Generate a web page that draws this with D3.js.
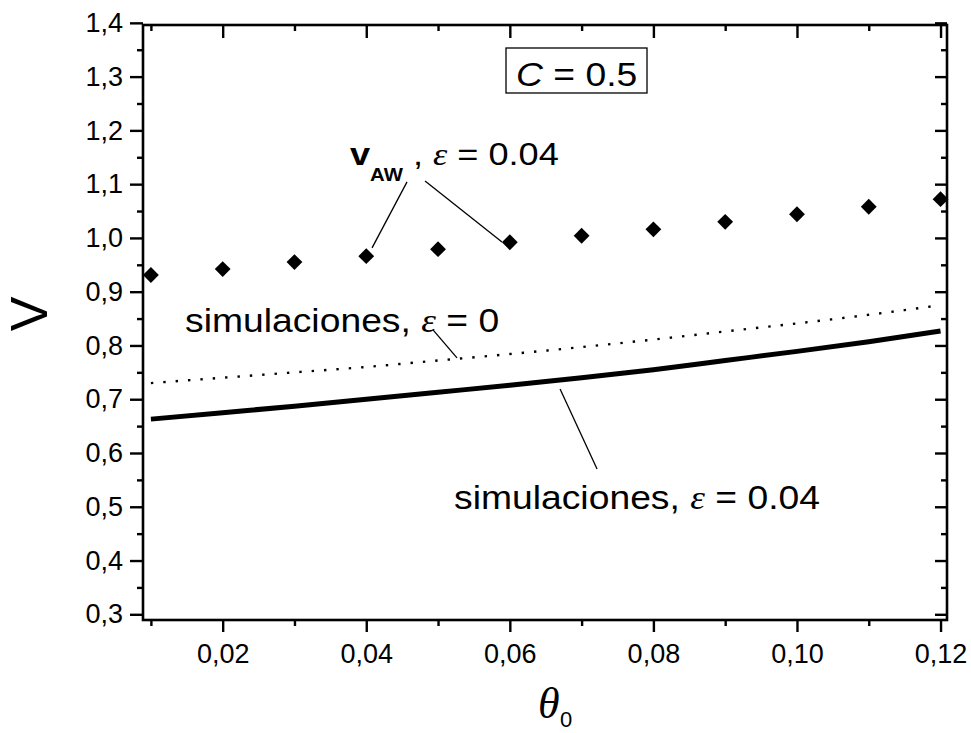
<!DOCTYPE html>
<html>
<head>
<meta charset="utf-8">
<script src="https://cdn.jsdelivr.net/npm/d3@7"></script>
<style>
  html, body { margin: 0; padding: 0; background: #fff; }
  svg { display: block; }
  text { font-family: "Liberation Sans", Arial, sans-serif; fill: #000; }
</style>
</head>
<body>
<svg id="chart" width="971" height="733"></svg>
<script>
// ---- data ----
const theta = [0.01, 0.02, 0.03, 0.04, 0.05, 0.06, 0.07, 0.08, 0.09, 0.10, 0.11, 0.12];
const vAW   = [0.931, 0.942, 0.955, 0.966, 0.979, 0.992, 1.004, 1.016, 1.030, 1.044, 1.058, 1.072];
const simEps0   = [0.730, 0.740, 0.750, 0.760, 0.772, 0.784, 0.797, 0.811, 0.826, 0.841, 0.857, 0.875];
const simEps004 = [0.663, 0.675, 0.687, 0.700, 0.713, 0.726, 0.740, 0.755, 0.772, 0.789, 0.807, 0.827];
const xTicks = [0.02, 0.04, 0.06, 0.08, 0.10, 0.12];
const xMinor = [0.01, 0.03, 0.05, 0.07, 0.09, 0.11];
const yTicks = [0.3, 0.4, 0.5, 0.6, 0.7, 0.8, 0.9, 1.0, 1.1, 1.2, 1.3, 1.4];
const yMinor = [0.35, 0.45, 0.55, 0.65, 0.75, 0.85, 0.95, 1.05, 1.15, 1.25, 1.35];
// leader lines (data coordinates): [x1, y1, x2, y2]
const leaders = [
  [0.04568, 1.1042, 0.04081, 0.9814],
  [0.04819, 1.1060, 0.05891, 0.99256],
  [0.0493, 0.8289, 0.05264, 0.7768],
  [0.0670, 0.7191, 0.07215, 0.5703]
];

// ---- layout ----
const L = 143, R = 947, T = 25, B = 620;
const SX = 1.13; // horizontal stretch of the annotation lettering
const svg = d3.select("#chart");
const x = d3.scaleLinear().domain([0.0089, 0.1209]).range([L, R]);
const y = d3.scaleLinear().domain([0.2894, 1.396]).range([B, T]);
const fmt = d => d3.format(".2f")(d).replace(".", ",");
const fmtY = d => d3.format(".1f")(d).replace(".", ",");

// ---- data marks ----
const line = d3.line().x((d, i) => x(theta[i])).y(d => y(d)).curve(d3.curveMonotoneX);

svg.append("path").datum(simEps0).attr("d", line)
  .attr("fill", "none").attr("stroke", "#000").attr("stroke-width", 2.4)
  .attr("stroke-dasharray", "2.4,10");

svg.append("path").datum(simEps004).attr("d", line)
  .attr("fill", "none").attr("stroke", "#000").attr("stroke-width", 5);

const diamond = d3.symbol().type(d3.symbolSquare).size(125);
svg.append("g").selectAll("path").data(vAW).join("path")
  .attr("d", diamond)
  .attr("transform", (d, i) => `translate(${x(theta[i])},${y(d)}) rotate(45)`)
  .attr("fill", "#000");

// ---- leader lines ----
svg.append("g").selectAll("line").data(leaders).join("line")
  .attr("x1", d => x(d[0])).attr("y1", d => y(d[1]))
  .attr("x2", d => x(d[2])).attr("y2", d => y(d[3]))
  .attr("stroke", "#000").attr("stroke-width", 1.3);

// ---- axes ----
function styleAxis(g) {
  g.select(".domain").remove();
  g.selectAll("line").attr("stroke", "#000").attr("stroke-width", 2.4);
  g.selectAll("text").style("font-size", "27px").attr("fill", "#000");
}
svg.append("g").attr("transform", `translate(0,${B})`)
  .call(d3.axisBottom(x).tickValues(xTicks).tickFormat(fmt).tickSize(12).tickPadding(12))
  .call(styleAxis);
svg.append("g").attr("transform", `translate(0,${B})`)
  .call(d3.axisBottom(x).tickValues(xMinor).tickFormat("").tickSize(6))
  .call(styleAxis);
svg.append("g").attr("transform", `translate(0,${T})`)
  .call(d3.axisTop(x).tickValues(xTicks).tickFormat("").tickSize(-13))
  .call(styleAxis);
svg.append("g").attr("transform", `translate(0,${T})`)
  .call(d3.axisTop(x).tickValues(xMinor).tickFormat("").tickSize(-6))
  .call(styleAxis);
svg.append("g").attr("transform", `translate(${L},0)`)
  .call(d3.axisLeft(y).tickValues(yTicks).tickFormat(fmtY).tickSize(13).tickPadding(7))
  .call(styleAxis);
svg.append("g").attr("transform", `translate(${L},0)`)
  .call(d3.axisLeft(y).tickValues(yMinor).tickFormat("").tickSize(6))
  .call(styleAxis);
svg.append("g").attr("transform", `translate(${R},0)`)
  .call(d3.axisRight(y).tickValues(yTicks).tickFormat("").tickSize(-12))
  .call(styleAxis);
svg.append("g").attr("transform", `translate(${R},0)`)
  .call(d3.axisRight(y).tickValues(yMinor).tickFormat("").tickSize(-6))
  .call(styleAxis);

svg.append("rect").attr("x", L).attr("y", T).attr("width", R - L).attr("height", B - T)
  .attr("fill", "none").attr("stroke", "#000").attr("stroke-width", 2.6);

// ---- axis titles ----
svg.append("text").attr("transform", "translate(47,314) rotate(-90)")
  .attr("text-anchor", "middle").style("font-size", "52px").text("V");

const xt = svg.append("text").attr("x", 538).attr("y", 718);
xt.append("tspan").style("font-family", "'Liberation Serif', serif").style("font-style", "italic")
  .style("font-size", "44px").text("θ");
xt.append("tspan").attr("x", 560).attr("y", 727).style("font-size", "22px").text("0");

// ---- annotations ----
const eps = sel => sel.append("tspan").style("font-family", "'Liberation Serif', serif")
  .style("font-style", "italic").text("ε");

svg.append("rect").attr("x", 506).attr("y", 48).attr("width", 141).attr("height", 45)
  .attr("fill", "#fff").attr("stroke", "#000").attr("stroke-width", 1.3);
const ct = svg.append("text").attr("transform", `translate(516,86) scale(${SX},1)`).style("font-size", "33px");
ct.append("tspan").style("font-style", "italic").text("C");
ct.append("tspan").text(" = 0.5");

const va = svg.append("text").attr("transform", `translate(350,165) scale(${SX},1)`).style("font-size", "32px");
va.append("tspan").style("font-weight", "bold").text("v");
va.append("tspan").attr("dy", 16).style("font-size", "18px").style("font-weight", "bold").text("AW");
va.append("tspan").attr("dy", -16).text(" , ");
eps(va);
va.append("tspan").text(" = 0.04");

const s0 = svg.append("text").attr("transform", `translate(185,332) scale(${SX},1)`).style("font-size", "33px");
s0.append("tspan").text("simulaciones, ");
eps(s0);
s0.append("tspan").text(" = 0");

const s1 = svg.append("text").attr("transform", `translate(454,509) scale(${SX},1)`).style("font-size", "33px");
s1.append("tspan").text("simulaciones, ");
eps(s1);
s1.append("tspan").text(" = 0.04");
</script>
</body>
</html>
